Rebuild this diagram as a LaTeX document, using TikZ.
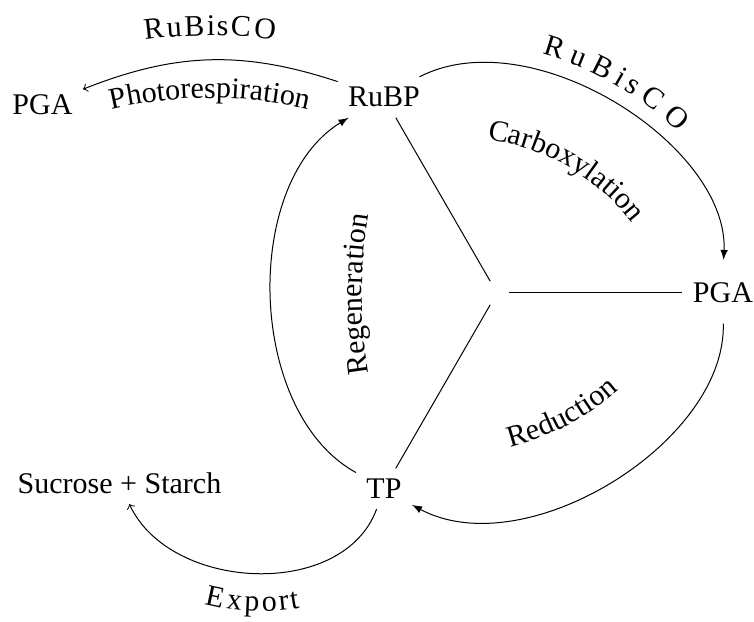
\documentclass[12pt,tikz,border=0pt]{standalone}
\usepackage{fontspec}
\setmainfont{Liberation Serif}
\usetikzlibrary{calc,decorations.text}
\newcommand{\rr}{226}
\tikzset{lbl/.style={decorate,decoration={text along path,text align=center,text={#1}}}}

\begin{document}
\begin{tikzpicture}[x=0.4pt,y=0.4pt]
\useasboundingbox (0,0) rectangle (754,621);
\node[inner sep=4.5pt] (c) at (497,328) {};
\path (c) ++(0:\rr) node (pga) {PGA};
\path (c) ++(120:\rr) node (rubp) {RuBP};
\path (c) ++(240:\rr) node (tp) {TP};
\node (pgal) at (42.5,516) {PGA};
\node (sug) at (119.5,138) {Sucrose + Starch};
\coordinate (ccarb) at (458,263.5);
\coordinate (cred) at (446,425.6);
\coordinate (creg) at (862,327);
\coordinate (cphot) at (210,88);
\draw (c) -- (pga);
\draw (c) -- (rubp);
\draw (c) -- (tp);
\draw[-latex,shorten >=5pt] (rubp) to[bend left=60,looseness=0.9] (pga);
\draw[-latex,shorten <=4pt] (pga) to[bend left=60,looseness=0.9] (tp);
\draw[-latex] (tp) to[bend left=60,looseness=0.9] (rubp);
\draw[->] (rubp) to[bend right=20] (pgal);
\draw[->] (tp) to[out=250,in=-65] (sug);
\path[lbl={Carboxylation}] ($(ccarb)+(95:220)$) arc[start angle=95,end angle=25,radius=220];
\path[lbl={RuBisCO},decoration={raise=38pt}] ($(ccarb)+(95:220)$) arc[start angle=95,end angle=25,radius=220];
\path[lbl={Reduction}] ($(cred)+(-87:260)$) arc[start angle=-87,end angle=-37,radius=260];
\path[lbl={Regeneration}] ($(creg)+(195:500)$) arc[start angle=195,end angle=165,radius=500];
\path[lbl={Photorespiration}] ($(cphot)+(106:435)$) arc[start angle=106,end angle=74,radius=435];
\path[lbl={RuBisCO},decoration={raise=25pt}] ($(cphot)+(106:435)$) arc[start angle=106,end angle=74,radius=435];
\path[lbl={Export},decoration={raise=-15pt}] (sug) to[out=-65,in=250] (tp);
\end{tikzpicture}
\end{document}
